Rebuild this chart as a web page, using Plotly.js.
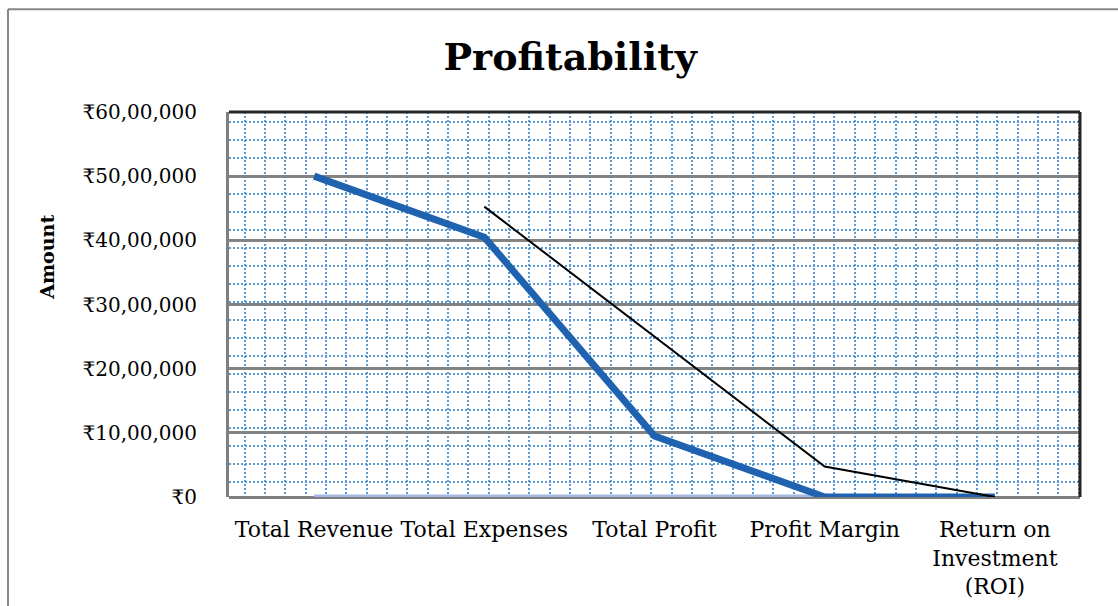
<!DOCTYPE html>
<html>
<head>
<meta charset="utf-8">
<script src="https://cdn.plot.ly/plotly-3.0.1.min.js"></script>
<style>html,body{margin:0;padding:0;background:#fff;}#chart{width:1118px;height:606px;}</style>
</head>
<body>
<div id="chart"></div>
<script>
// ---- data ----
const categories = ['Total Revenue', 'Total Expenses', 'Total Profit', 'Profit Margin', 'Return on<br>Investment<br>(ROI)'];
const amountValues = [5000000, 4050000, 950000, 0, 0];
const baselineValues = [0, 0, 0, 0, 0];
const trendValues = [null, 4525000, 2500000, 475000, 0]; // 2-period moving average
const yTickValues = [0, 1000000, 2000000, 3000000, 4000000, 5000000, 6000000];
const yTickLabels = ['₹0', '₹10,00,000', '₹20,00,000', '₹30,00,000', '₹40,00,000', '₹50,00,000', '₹60,00,000'];

const xIdx = categories.map((_, i) => i);
const FONT = 'DejaVu Serif, serif';

const traces = [
  { x: xIdx, y: baselineValues, type: 'scatter', mode: 'lines', cliponaxis: false,
    line: { color: '#a4b8e2', width: 5 }, hoverinfo: 'skip', showlegend: false },
  { x: xIdx, y: amountValues, type: 'scatter', mode: 'lines', cliponaxis: false,
    line: { color: '#1f62b0', width: 7 }, showlegend: false },
  { x: xIdx, y: trendValues, type: 'scatter', mode: 'lines', cliponaxis: false,
    line: { color: '#000000', width: 2 }, showlegend: false }
];

const layout = {
  width: 1118, height: 606,
  paper_bgcolor: '#ffffff', plot_bgcolor: '#ffffff',
  margin: { l: 229, r: 38, t: 112, b: 109, pad: 0 },
  title: { text: '<b>Profitability</b>', x: 0.51, xanchor: 'center', y: 0.907, yanchor: 'middle',
           font: { family: FONT, size: 38, color: '#000' } },
  showlegend: false,
  xaxis: {
    range: [-0.5, 4.5], tickmode: 'array', tickvals: xIdx, ticktext: categories,
    showgrid: false, zeroline: false, showline: false,
    ticks: '', ticklen: 0, ticklabelstandoff: 17, tickfont: { family: FONT, size: 22, color: '#000' },
    minor: { tick0: -0.408, dtick: 0.1195, showgrid: true, griddash: '2px,2px', gridcolor: '#5b9bd5', gridwidth: 2, ticks: '' },
    fixedrange: true
  },
  yaxis: {
    range: [0, 6000000], tickmode: 'array', tickvals: yTickValues, ticktext: yTickLabels,
    showgrid: true, gridcolor: '#838383', gridwidth: 3,
    zeroline: true, zerolinecolor: '#7f7f7f', zerolinewidth: 3,
    showline: true, linecolor: '#7f7f7f', linewidth: 3, ticks: '', ticklabelstandoff: 25,
    tickfont: { family: FONT, size: 20, color: '#000' },
    minor: { tick0: 237000, dtick: 280000, showgrid: true, griddash: '2px,2px', gridcolor: '#5b9bd5', gridwidth: 2, ticks: '' },
    fixedrange: true
  },
  annotations: [
    { text: '<b>Amount</b>', xref: 'paper', yref: 'paper', x: -0.2139, y: 0.624, textangle: -90,
      showarrow: false, xanchor: 'center', yanchor: 'middle', font: { family: FONT, size: 19, color: '#000' } }
  ],
  shapes: [
    { type: 'line', layer: 'above', xref: 'paper', yref: 'paper', x0: 0, x1: 1, y0: 1, y1: 1, line: { color: '#262626', width: 3 } },
    { type: 'line', layer: 'above', xref: 'paper', yref: 'paper', x0: 1, x1: 1, y0: 0, y1: 1, line: { color: '#262626', width: 3 } },
    { type: 'line', layer: 'above', xref: 'paper', yref: 'paper', x0: -0.2597, x1: 1.06, y0: 1.2666, y1: 1.2666, line: { color: '#878787', width: 2 } },
    { type: 'line', layer: 'above', xref: 'paper', yref: 'paper', x0: -0.2597, x1: -0.2597, y0: -0.32, y1: 1.2666, line: { color: '#878787', width: 2 } }
  ]
};

Plotly.newPlot('chart', traces, layout, { displayModeBar: false, staticPlot: true });
</script>
</body>
</html>
